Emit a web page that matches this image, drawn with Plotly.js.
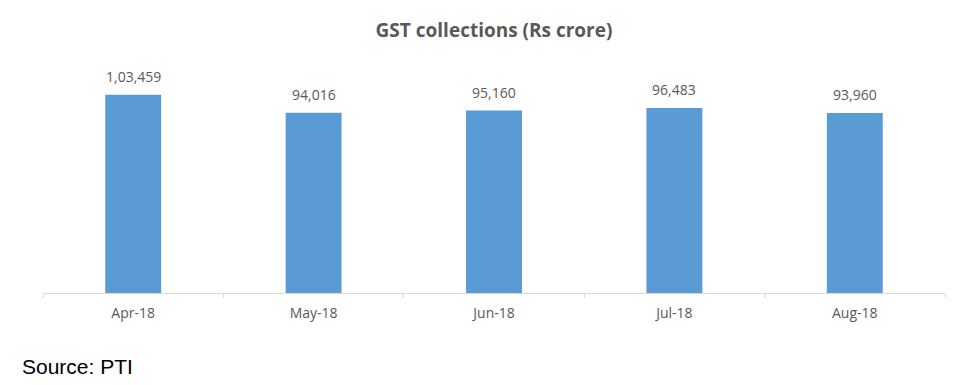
<!DOCTYPE html>
<html><head><meta charset="utf-8">
<script src="https://cdn.plot.ly/plotly-3.0.1.min.js"></script>
<style>html,body{margin:0;padding:0;background:#fff;}</style>
</head><body>
<div id="chart" style="width:960px;height:385px;"></div>
<script>
var months = ["Apr-18", "May-18", "Jun-18", "Jul-18", "Aug-18"];
var collections = [103459, 94016, 95160, 96483, 93960];
var labels = ["1,03,459", "94,016", "95,160", "96,483", "93,960"];

var trace = {
  type: 'bar', x: months, y: collections,
  marker: {color: '#5B9BD5'},
  hoverinfo: 'x+y'
};
var ann = months.map(function(m, i){
  return {x: m, y: collections[i], xref: 'x', yref: 'y', text: labels[i], showarrow: false,
    yanchor: 'bottom', yshift: 7, font: {family: 'Open Sans, sans-serif', size: 14, color: '#595959'}};
});
ann.push({xref: 'paper', yref: 'paper', x: -0.025, y: -0.26, xanchor: 'left', yanchor: 'top', showarrow: false,
  text: 'Source: PTI', font: {family: 'Liberation Sans, Arial, sans-serif', size: 21, color: '#000'}});
var layout = {
  width: 960, height: 385,
  margin: {l: 43, r: 15, t: 63, b: 92},
  paper_bgcolor: '#fff', plot_bgcolor: '#fff',
  bargap: 0.69,
  title: {text: '<b>GST collections (Rs crore)</b>', x: 0.5, xref: 'paper', y: 0.922, yanchor: 'middle',
    font: {family: 'Open Sans, sans-serif', size: 19, color: '#595959'}},
  xaxis: {showline: true, linecolor: '#d9d9d9', linewidth: 1, ticks: 'outside', tickson: 'boundaries',
    ticklen: 4, tickcolor: '#d9d9d9', showgrid: false, zeroline: false,
    tickfont: {family: 'Open Sans, sans-serif', size: 14, color: '#595959'}, ticklabelstandoff: 7},
  yaxis: {range: [0, 120000], visible: false, showgrid: false, zeroline: false},
  annotations: ann,
  showlegend: false
};
Plotly.newPlot('chart', [trace], layout, {displayModeBar: false, staticPlot: true});
</script>
</body></html>
